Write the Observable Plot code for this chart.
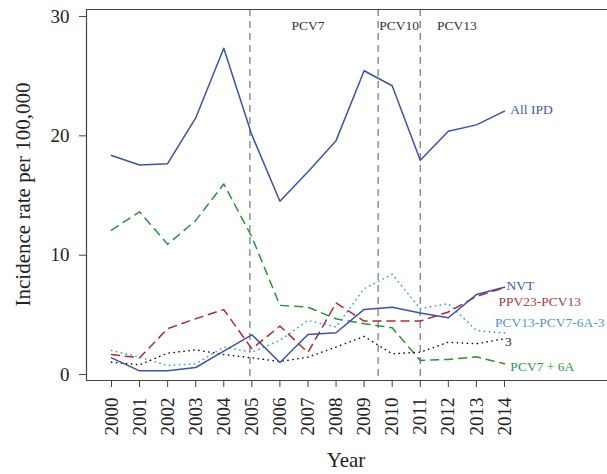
<!DOCTYPE html>
<html><head><meta charset="utf-8">
<script src="https://cdn.jsdelivr.net/npm/d3@7"></script>
<script src="https://cdn.jsdelivr.net/npm/@observablehq/plot@0.6"></script>
<style>body{margin:0;background:#fff}</style>
</head><body><div id="chart"></div>
<script>
const years = [2000,2001,2002,2003,2004,2005,2006,2007,2008,2009,2010,2011,2012,2013,2014];
const allIPD = [18.35,17.56,17.67,21.5,27.34,20.08,14.52,17.0,19.6,25.46,24.2,17.96,20.39,20.92,22.07];
const nvt    = [1.4,0.31,0.31,0.59,1.96,3.33,1.01,3.36,3.5,5.46,5.63,5.15,4.76,6.7,7.31];
const ppv23  = [1.68,1.4,3.84,4.68,5.44,2.16,4.06,1.85,6.0,4.48,4.48,4.48,5.24,6.55,7.28];
const pcv13x = [2.02,1.46,0.76,0.9,2.3,1.87,2.86,4.54,3.98,7.2,8.4,5.52,5.94,3.7,3.47];
const sero3  = [1.04,0.81,1.79,2.07,1.68,1.4,1.09,1.46,2.3,3.19,1.74,1.87,2.71,2.58,3.0];
const pcv7   = [12.1,13.64,10.92,12.9,15.97,11.54,5.8,5.64,4.67,4.26,3.92,1.18,1.26,1.49,0.9];

const yTicks = [0,10,20,30];
const vaccineYears = [2004.93,2009.5,2011];
const periodNames = ["PCV7","PCV10","PCV13"];
const periodX = [2007,2010.25,2012.3];

const labelNames  = ["All IPD","NVT","PPV23-PCV13","PCV13-PCV7-6A-3","3","PCV7 + 6A"];
const labelX      = [2014.21,2014.07,2013.79,2013.66,2014.02,2014.21];
const labelY      = [22.2,7.42,6.14,4.38,2.77,0.63];
const labelColors = ["#4656a8","#4656a8","#b0393d","#4a9ac6","#222222","#35973f"];

const blue="#3f51a8", red="#b22b30", lblue="#4a9cca", green="#2e8f3c", black="#111";
const xDom=[1999.11,2017.67], yDom=[-0.5,30.59];
const rows = s => years.map((x,i)=>({x, y:s[i]}));

const plot = Plot.plot({
  width:607, height:474,
  marginLeft:86, marginRight:0, marginTop:9, marginBottom:94,
  style:{fontFamily:"'Liberation Serif', serif", fontSize:"19px", background:"#fff", color:"#222"},
  x:{domain:xDom, label:null},
  y:{domain:yDom, label:null},
  marks:[
    Plot.ruleX(vaccineYears,{stroke:"#888",strokeWidth:1.4,strokeDasharray:"7,5"}),
    Plot.line(rows(pcv7),{x:"x",y:"y",stroke:green,strokeWidth:1.5,strokeDasharray:"8,6"}),
    Plot.line(rows(ppv23),{x:"x",y:"y",stroke:red,strokeWidth:1.5,strokeDasharray:"8,6"}),
    Plot.line(rows(pcv13x),{x:"x",y:"y",stroke:lblue,strokeWidth:1.6,strokeDasharray:"0.3,4.7",strokeLinecap:"round"}),
    Plot.line(rows(sero3),{x:"x",y:"y",stroke:black,strokeWidth:1.5,strokeDasharray:"0.3,4.7",strokeLinecap:"round"}),
    Plot.line(rows(nvt),{x:"x",y:"y",stroke:blue,strokeWidth:1.5}),
    Plot.line(rows(allIPD),{x:"x",y:"y",stroke:blue,strokeWidth:1.5}),
    Plot.text(periodNames,{x:(d,i)=>periodX[i],frameAnchor:"top",dy:11,fontSize:13.5,fill:"#333"}),
    Plot.text(labelNames,{x:(d,i)=>labelX[i],y:(d,i)=>labelY[i],textAnchor:"start",fontSize:13.5,fill:(d,i)=>labelColors[i]}),
    Plot.ruleX([xDom[0]],{stroke:"#444",strokeWidth:1.2}),
    Plot.ruleY([yDom[0],yDom[1]],{stroke:"#444",strokeWidth:1.2}),
    Plot.axisY({ticks:yTicks,tickSize:7,tickPadding:10,fontSize:19,label:null,stroke:"#444"}),
    Plot.axisX({ticks:years,tickFormat:d=>String(d),tickRotate:-90,tickSize:7,tickPadding:10,fontSize:19,label:null,stroke:"#444"})
  ]
});
document.getElementById("chart").appendChild(plot);
const svg = d3.select(plot);
svg.append("text").attr("transform","translate(25,194.5) rotate(-90)")
  .attr("text-anchor","middle").attr("dominant-baseline","middle")
  .attr("font-family","'Liberation Serif', serif").attr("font-size",21).attr("fill","#222")
  .text("Incidence rate per 100,000");
svg.append("text").attr("x",346).attr("y",462)
  .attr("text-anchor","middle").attr("dominant-baseline","middle")
  .attr("font-family","'Liberation Serif', serif").attr("font-size",21).attr("fill","#222")
  .text("Year");
</script></body></html>
